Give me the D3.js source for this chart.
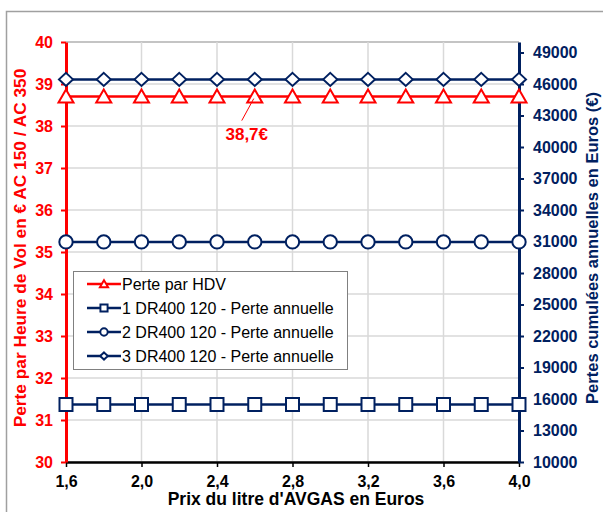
<!DOCTYPE html>
<html>
<head>
<meta charset="utf-8">
<script src="https://cdn.jsdelivr.net/npm/d3@7"></script>
<style>
  body { margin: 0; background: #fff; }
  text { font-family: "Liberation Sans", Arial, sans-serif; }
</style>
</head>
<body>
<div id="chart"></div>
<script>
// data
var prices = [1.6, 1.8, 2.0, 2.2, 2.4, 2.6, 2.8, 3.0, 3.2, 3.4, 3.6, 3.8, 4.0];
var perteHDV = [38.7, 38.7, 38.7, 38.7, 38.7, 38.7, 38.7, 38.7, 38.7, 38.7, 38.7, 38.7, 38.7];
var perte1 = [15480, 15480, 15480, 15480, 15480, 15480, 15480, 15480, 15480, 15480, 15480, 15480, 15480];
var perte2 = [30960, 30960, 30960, 30960, 30960, 30960, 30960, 30960, 30960, 30960, 30960, 30960, 30960];
var perte3 = [46440, 46440, 46440, 46440, 46440, 46440, 46440, 46440, 46440, 46440, 46440, 46440, 46440];
var xTicks = [1.6, 2.0, 2.4, 2.8, 3.2, 3.6, 4.0];
var leftTicks = [30, 31, 32, 33, 34, 35, 36, 37, 38, 39, 40];
var rightTicks = [10000, 13000, 16000, 19000, 22000, 25000, 28000, 31000, 34000, 37000, 40000, 43000, 46000, 49000];
var seriesNames = ["Perte par HDV", "1 DR400 120 - Perte annuelle", "2 DR400 120 - Perte annuelle", "3 DR400 120 - Perte annuelle"];

var svgWidth = 603;
var svgHeight = 512;
var margin = { top: 42, right: 84, bottom: 50, left: 66 };
var width = svgWidth - margin.left - margin.right;
var height = svgHeight - margin.top - margin.bottom;

var red = "#ff0000";
var navy = "#002060";

var svg = d3.select("#chart").append("svg")
  .attr("width", svgWidth)
  .attr("height", svgHeight);

// outer chart border
svg.append("rect")
  .attr("x", 6.5).attr("y", 11.5)
  .attr("width", 620).attr("height", 520)
  .attr("fill", "none").attr("stroke", "#a0a0a0").attr("stroke-width", 1.5);

var g = svg.append("g").attr("transform", `translate(${margin.left}, ${margin.top})`);

var x = d3.scaleLinear().domain([1.6, 4.0]).range([0, width]);
var yL = d3.scaleLinear().domain([30, 40]).range([height, 0]);
var yR = d3.scaleLinear().domain([10000, 50000]).range([height, 0]);

// grid
g.selectAll(".hgrid").data(leftTicks).enter().append("line")
  .attr("x1", 0).attr("x2", width)
  .attr("y1", d => yL(d)).attr("y2", d => yL(d))
  .attr("stroke", d => d === 40 ? "#b0b0b0" : "#d9d9d9").attr("stroke-width", 1.5);
g.selectAll(".vgrid").data(xTicks).enter().append("line")
  .attr("x1", d => x(d)).attr("x2", d => x(d))
  .attr("y1", 0).attr("y2", height)
  .attr("stroke", "#d9d9d9").attr("stroke-width", 1.5);

// axes
var bottomAxis = d3.axisBottom(x).tickValues(xTicks).tickSize(5).tickSizeOuter(0)
  .tickFormat(d => d3.format(".1f")(d).replace(".", ","));
var leftAxis = d3.axisLeft(yL).tickValues(leftTicks).tickSize(5).tickSizeOuter(0);
var rightAxis = d3.axisRight(yR).tickValues(rightTicks).tickSize(5).tickSizeOuter(0).tickFormat(d3.format("d"));

var gx = g.append("g").attr("transform", `translate(0, ${height})`).call(bottomAxis);
gx.select(".domain").attr("stroke", "#000").attr("stroke-width", 2.5);
gx.selectAll(".tick line").attr("stroke", "#000").attr("stroke-width", 1.5);
gx.selectAll("text").attr("fill", "#000").attr("font-size", 16).attr("font-weight", "bold").attr("y", 10).attr("dy", "0.95em");

var gl = g.append("g").call(leftAxis);
gl.select(".domain").attr("stroke", red).attr("stroke-width", 3);
gl.selectAll(".tick line").attr("stroke", red).attr("stroke-width", 2);
gl.selectAll("text").attr("fill", red).attr("font-size", 16).attr("font-weight", "bold").attr("x", -13);

var gr = g.append("g").attr("transform", `translate(${width}, 0)`).call(rightAxis);
gr.select(".domain").attr("stroke", navy).attr("stroke-width", 3);
gr.selectAll(".tick line").attr("stroke", navy).attr("stroke-width", 2);
gr.selectAll("text").attr("fill", navy).attr("font-size", 16).attr("font-weight", "bold").attr("x", 14);

// lines
function drawSeries(values, scale, color, marker) {
  var pts = prices.map((p, i) => [x(p), scale(values[i])]);
  g.append("path").datum(pts)
    .attr("d", d3.line())
    .attr("fill", "none").attr("stroke", color).attr("stroke-width", 2.5);
  g.selectAll(null).data(pts).enter().append("path")
    .attr("transform", d => `translate(${d[0]}, ${d[1]})`)
    .attr("d", marker)
    .attr("fill", "#fff").attr("stroke", color).attr("stroke-width", 2);
}
var triangle = "M0,-7L7.5,6L-7.5,6Z";
var square = "M-6.5,-6.5H6.5V6.5H-6.5Z";
var circle = d3.symbol(d3.symbolCircle, 140)();
var diamond = "M0,-6.5L7,0L0,6.5L-7,0Z";

drawSeries(perte1, yR, navy, square);
drawSeries(perte2, yR, navy, circle);
drawSeries(perte3, yR, navy, diamond);
drawSeries(perteHDV, yL, red, triangle);

// data label for 2,6
var lx = x(prices[5]), ly = yL(perteHDV[5]);
g.append("line")
  .attr("x1", lx - 13).attr("y1", ly + 24)
  .attr("x2", lx - 1).attr("y2", ly + 2)
  .attr("stroke", red).attr("stroke-width", 1);
g.append("text")
  .attr("x", lx - 8).attr("y", ly + 43)
  .attr("text-anchor", "middle")
  .attr("fill", red).attr("font-size", 17).attr("font-weight", "bold")
  .text(d3.format(".1f")(perteHDV[5]).replace(".", ",") + "€");

// legend
var legend = svg.append("g").attr("transform", "translate(73, 271)");
legend.append("rect").attr("x", 0.5).attr("y", 0.5).attr("width", 274).attr("height", 98)
  .attr("fill", "#fff").attr("stroke", "#808080").attr("stroke-width", 1);
var legendMarkers = [triangle, square, circle, diamond];
var legendColors = [red, navy, navy, navy];
seriesNames.forEach(function(name, i) {
  var yy = 13 + i * 24;
  legend.append("line").attr("x1", 14).attr("x2", 48).attr("y1", yy).attr("y2", yy)
    .attr("stroke", legendColors[i]).attr("stroke-width", 2.5);
  legend.append("path").attr("transform", `translate(31, ${yy}) scale(0.55)`)
    .attr("d", legendMarkers[i])
    .attr("fill", "#fff").attr("stroke", legendColors[i]).attr("stroke-width", 3.5);
  legend.append("text").attr("x", 49).attr("y", yy + 5.5)
    .attr("font-size", 16).attr("fill", "#000")
    .text(name);
});

// axis titles
svg.append("text")
  .attr("transform", "translate(26, 248) rotate(-90)")
  .attr("text-anchor", "middle")
  .attr("fill", red).attr("font-size", 17.3).attr("font-weight", "bold")
  .text("Perte par Heure de Vol en € AC 150 / AC 350");
svg.append("text")
  .attr("transform", "translate(598, 248) rotate(-90)")
  .attr("text-anchor", "middle")
  .attr("fill", navy).attr("font-size", 16.5).attr("font-weight", "bold")
  .text("Pertes cumulées annuelles en Euros (€)");
svg.append("text")
  .attr("x", 296).attr("y", 505)
  .attr("text-anchor", "middle")
  .attr("fill", "#000").attr("font-size", 17.5).attr("font-weight", "bold")
  .text("Prix du litre d'AVGAS en Euros");
</script>
</body>
</html>
